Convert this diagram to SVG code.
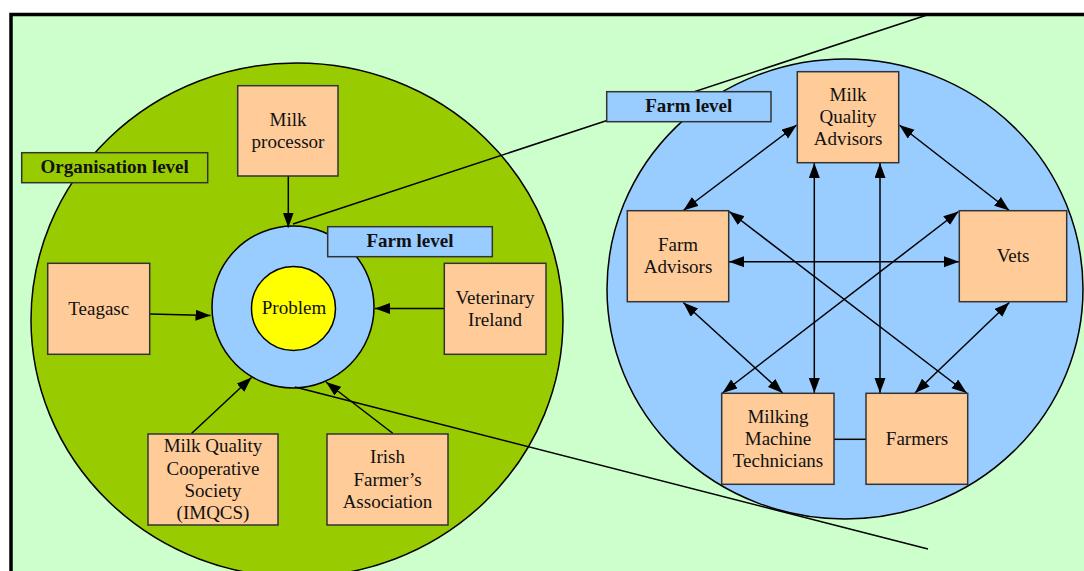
<svg xmlns="http://www.w3.org/2000/svg" width="1084" height="571" viewBox="0 0 1084 571">
  <defs>
    <marker id="arrow" markerUnits="userSpaceOnUse" markerWidth="16" markerHeight="12" refX="15" refY="5.5" orient="auto-start-reverse">
      <path d="M0,0 L15,5.5 L0,11 z" fill="#000"/>
    </marker>
    <style>
      .box { fill: #FFCC99; stroke: #333; stroke-width: 1.5; }
      .label { stroke: #333; stroke-width: 1.5; }
      .txt { font-family: "Liberation Serif", "Times New Roman", serif; font-size: 19px; fill: #111; text-anchor: middle; }
      .bold { font-weight: bold; }
      .link { stroke: #000; stroke-width: 1.5; fill: none; }
      .one { marker-end: url(#arrow); }
      .two { marker-start: url(#arrow); marker-end: url(#arrow); }
    </style>
  </defs>

  <!-- page background and frame -->
  <rect x="0" y="0" width="1084" height="571" fill="#fff"/>
  <rect x="11" y="14.5" width="1100" height="600" fill="#CCFFCC" stroke="#000" stroke-width="3.5"/>

  <!-- organisation level (left) and farm level (right) areas -->
  <ellipse id="org-area" cx="297" cy="320" rx="266" ry="257" fill="#99CC00" stroke="#000" stroke-width="1.5"/>
  <ellipse id="farm-area" cx="845" cy="289" rx="238" ry="230" fill="#99CCFF" stroke="#000" stroke-width="1.5"/>

  <!-- core rings -->
  <g id="farm-ring">
    <circle cx="293" cy="307" r="81" fill="#99CCFF" stroke="#000" stroke-width="1.5"/>
  </g>
  <g id="problem">
    <circle cx="293.5" cy="308.5" r="42" fill="#FFFF00" stroke="#000" stroke-width="1.5"/>
    <text class="txt" x="294" y="314">Problem</text>
  </g>

  <!-- connectors -->
  <g id="connectors">
    <!-- zoom lines from the farm ring out to the farm level area -->
    <line class="link" x1="293" y1="224" x2="927" y2="15"/>
    <line class="link" x1="295" y1="387" x2="928" y2="549"/>

    <!-- organisations feeding into the farm -->
    <line class="link one" x1="288.3" y1="176" x2="288.3" y2="227.5"/>
    <line class="link one" x1="150" y1="314" x2="210.5" y2="315.5"/>
    <line class="link one" x1="444" y1="308.5" x2="375" y2="308.5"/>
    <line class="link one" x1="191.5" y1="433.5" x2="251.5" y2="377.5"/>
    <line class="link one" x1="393" y1="433.5" x2="326" y2="382"/>

    <!-- farm level relationships -->
    <line class="link two" x1="796.7" y1="125" x2="683.3" y2="210.5"/>
    <line class="link two" x1="899.3" y1="125" x2="1009.3" y2="210.5"/>
    <line class="link two" x1="814.3" y1="163" x2="814.3" y2="393"/>
    <line class="link two" x1="880" y1="163" x2="880" y2="393"/>
    <line class="link two" x1="729" y1="261.7" x2="959" y2="261.7"/>
    <line class="link two" x1="729.3" y1="211.5" x2="966.7" y2="393"/>
    <line class="link two" x1="958.5" y1="211.5" x2="722.5" y2="393"/>
    <line class="link two" x1="683.3" y1="302.5" x2="782.7" y2="393"/>
    <line class="link two" x1="1009.3" y1="302.5" x2="915" y2="393"/>
    <line class="link" x1="834" y1="439.3" x2="866" y2="439.3"/>
  </g>

  <!-- level labels -->
  <g id="org-level-label">
    <rect class="label" x="21.7" y="152.7" width="186" height="30" fill="#99CC00"/>
    <text class="txt bold" x="114.7" y="173">Organisation level</text>
  </g>
  <g id="farm-level-label-left">
    <rect class="label" x="327.7" y="226.7" width="164.6" height="30" fill="#99CCFF"/>
    <text class="txt bold" x="410" y="247">Farm level</text>
  </g>
  <g id="farm-level-label-right">
    <rect class="label" x="606.7" y="91.7" width="164.3" height="30" fill="#99CCFF"/>
    <text class="txt bold" x="688.8" y="112">Farm level</text>
  </g>

  <!-- organisation nodes -->
  <g id="milk-processor">
    <rect class="box" x="237.7" y="85.7" width="100.3" height="90.3"/>
    <text class="txt" x="288" y="126">Milk</text>
    <text class="txt" x="288" y="148">processor</text>
  </g>
  <g id="teagasc">
    <rect class="box" x="47.7" y="263.3" width="102" height="91"/>
    <text class="txt" x="98.7" y="315">Teagasc</text>
  </g>
  <g id="veterinary-ireland">
    <rect class="box" x="444.3" y="263.3" width="101.7" height="91"/>
    <text class="txt" x="495" y="304">Veterinary</text>
    <text class="txt" x="495" y="326">Ireland</text>
  </g>
  <g id="imqcs">
    <rect class="box" x="148" y="434" width="130" height="91"/>
    <text class="txt" x="213" y="452">Milk Quality</text>
    <text class="txt" x="213" y="474.5">Cooperative</text>
    <text class="txt" x="213" y="497">Society</text>
    <text class="txt" x="213" y="519">(IMQCS)</text>
  </g>
  <g id="irish-farmers-association">
    <rect class="box" x="327" y="434" width="121" height="91"/>
    <text class="txt" x="387.5" y="463">Irish</text>
    <text class="txt" x="387.5" y="485.5">Farmer’s</text>
    <text class="txt" x="387.5" y="508">Association</text>
  </g>

  <!-- farm level nodes -->
  <g id="milk-quality-advisors">
    <rect class="box" x="797.3" y="71.7" width="101.4" height="91"/>
    <text class="txt" x="848" y="101">Milk</text>
    <text class="txt" x="848" y="123.3">Quality</text>
    <text class="txt" x="848" y="145">Advisors</text>
  </g>
  <g id="farm-advisors">
    <rect class="box" x="627.3" y="210.7" width="101.4" height="91"/>
    <text class="txt" x="678" y="251">Farm</text>
    <text class="txt" x="678" y="273">Advisors</text>
  </g>
  <g id="vets">
    <rect class="box" x="959.3" y="210.7" width="107.4" height="91"/>
    <text class="txt" x="1013" y="262">Vets</text>
  </g>
  <g id="milking-machine-technicians">
    <rect class="box" x="721.7" y="393.3" width="112.3" height="91"/>
    <text class="txt" x="778" y="422.5">Milking</text>
    <text class="txt" x="778" y="444.5">Machine</text>
    <text class="txt" x="778" y="467">Technicians</text>
  </g>
  <g id="farmers">
    <rect class="box" x="866" y="393.3" width="101.7" height="91"/>
    <text class="txt" x="917" y="444.5">Farmers</text>
  </g>
</svg>
